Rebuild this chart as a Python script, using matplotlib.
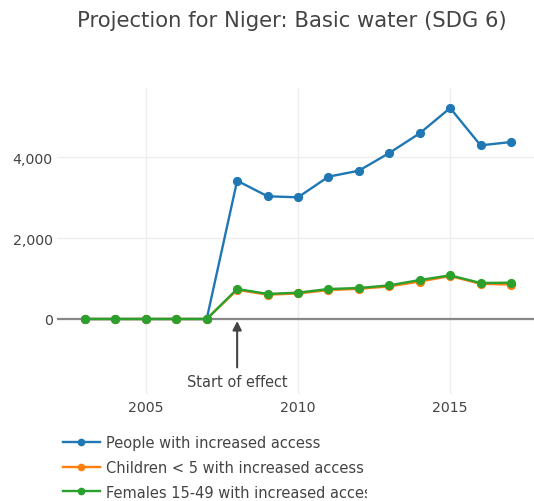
import matplotlib
matplotlib.use("Agg")
import matplotlib.pyplot as plt
from matplotlib.lines import Line2D
from matplotlib.patches import Rectangle

years = list(range(2003, 2018))
people = [0, 0, 0, 0, 0, 3415, 3030, 3005, 3514, 3662, 4099, 4585, 5210, 4288, 4370]
children = [0, 0, 0, 0, 0, 720, 600, 630, 715, 745, 805, 925, 1060, 870, 850]
females = [0, 0, 0, 0, 0, 741, 620, 650, 741, 765, 831, 963, 1078, 889, 897]
series_names = ["People with increased access",
                "Children < 5 with increased access",
                "Females 15-49 with increased access"]
colors = ["#1f77b4", "#ff7f0e", "#2ca02c"]
yticks = [0, 2000, 4000]
ytick_labels = ["0", "2,000", "4,000"]
xticks = [2005, 2010, 2015]
title = "Projection for Niger: Basic water (SDG 6)"
annot_text = "Start of effect"
annot_year = 2008

plt.rcParams['font.family'] = ['DejaVu Sans']
W, H = 534, 502
fig = plt.figure(figsize=(W / 100, H / 100), dpi=100)
renderer = fig.canvas.get_renderer()


def fit_size(s, target_px, base=10.0):
    t = fig.text(0, 0, s, fontsize=base)
    w = t.get_window_extent(renderer).width
    t.remove()
    return base * target_px / w


title_fs = fit_size(title, 429)
tick_fs = fit_size("4,000", 40)
annot_fs = fit_size(annot_text, 101)
leg_fs = fit_size(series_names[0], 214)
GREY = '#444444'

# plot area in pixels: x 57..539, y 89..395
L, R, T, B = 57, 539, 89, 395
ax = fig.add_axes([L / W, 1 - B / H, (R - L) / W, (B - T) / H])

for vals, c in zip([people, children, females], colors):
    ax.plot(years, vals, color=c, lw=1.7, marker='o', ms=5.6, zorder=3)

ax.set_xlim(2002.08, 2017.92)
ax.set_ylim(-1852, 5704)
ax.axhline(0, color='#888888', lw=1.6, zorder=2)
ax.set_yticks(yticks)
ax.set_yticklabels(ytick_labels)
ax.set_xticks(xticks)
ax.grid(True, color='#eeeeee', lw=1)
ax.set_axisbelow(True)
for s in ax.spines.values():
    s.set_visible(False)
ax.tick_params(axis='y', length=0, labelsize=tick_fs, colors=GREY, pad=3)
ax.tick_params(axis='x', length=0, labelsize=tick_fs, colors=GREY, pad=4)

ax.annotate(annot_text, xy=(annot_year, -50), xytext=(annot_year, -1550),
            ha='center', va='center', fontsize=annot_fs, color=GREY,
            arrowprops=dict(arrowstyle='-|>', color=GREY, lw=1.5,
                            mutation_scale=13, shrinkA=3, shrinkB=0), zorder=4)

fig.text(291.5 / W, 1 - 21 / H, title, ha='center', va='center',
         fontsize=title_fs, color=GREY)

# legend (manually positioned, below the plot)
rows_y = [442.5, 467.5, 492]
for name, c, yy in zip(series_names, colors, rows_y):
    fy = 1 - yy / H
    fig.add_artist(Line2D([62.5 / W, 100 / W], [fy, fy], color=c, lw=1.7,
                          transform=fig.transFigure))
    fig.add_artist(Line2D([81 / W], [fy], color=c, marker='o', ms=4.5,
                          transform=fig.transFigure))
    fig.text(106.5 / W, fy, name, ha='left', va='center_baseline',
             fontsize=leg_fs, color=GREY)
fig.add_artist(Rectangle((367 / W, 0), 1, 72 / H, transform=fig.transFigure,
                         facecolor='white', edgecolor='none', zorder=20))

fig.savefig("out.png", dpi=100)
